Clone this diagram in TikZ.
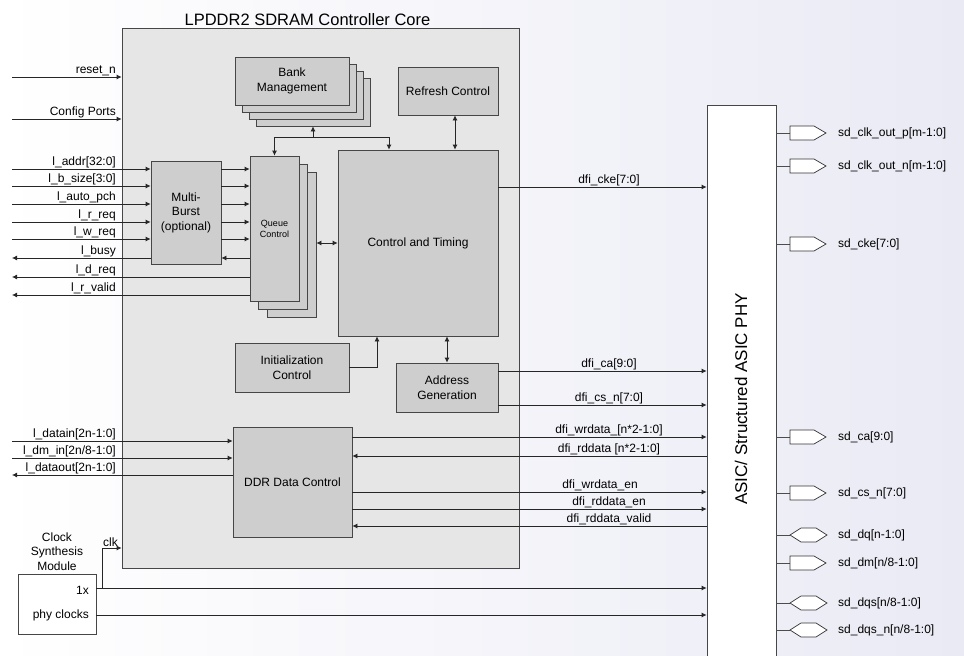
\documentclass[tikz,border=0pt]{standalone}
\usepackage{fontspec}
\setmainfont{Liberation Sans}
\usetikzlibrary{arrows.meta}
\definecolor{corefill}{RGB}{230,230,230}
\definecolor{blockfill}{RGB}{206,206,206}
\definecolor{edge}{RGB}{70,70,70}
\definecolor{bgright}{RGB}{234,234,245}
\newcommand{\sigfont}{\fontsize{12}{14.5}\selectfont}

\begin{document}
\begin{tikzpicture}[x=1pt, y=-1pt,
    block/.style={draw=edge, fill=blockfill, line width=0.8pt, inner sep=0pt, align=center, font=\sigfont},
    sig/.style={draw=black!85, line width=0.8pt, -{Latex[length=5pt,width=5pt]}},
    dsig/.style={draw=black!85, line width=0.8pt, {Latex[length=5pt,width=5pt]}-{Latex[length=5pt,width=5pt]}},
    wire/.style={draw=black!70, line width=0.8pt},
    lbl/.style={font=\sigfont, inner sep=1pt},
    outpin/.style={draw=black!80, fill=white, line width=0.7pt}]
  \useasboundingbox (0,0) rectangle (964,656);
  \fill[left color=white, right color=bgright] (0,0) rectangle (964,656);

  \node[draw=edge, fill=corefill, line width=0.8pt, minimum width=397pt, minimum height=540pt] (core) at (320.5,298) {};
  \node[font=\fontsize{16.5}{18}\selectfont, anchor=south, inner sep=2pt] (title) at ([xshift=-13pt]core.north) {LPDDR2 SDRAM Controller Core};

  \foreach \d in {21,14,7}
    \node[block, minimum width=114pt, minimum height=48pt] (bank\d) at (292+\d,81+\d) {};
  \node[block, minimum width=114pt, minimum height=48pt] (bank) at (292,81) {Bank\\Management};
  \node[block, minimum width=100pt, minimum height=48pt] (refresh) at (448,91) {Refresh Control};
  \node[block, minimum width=160pt, minimum height=186pt] (ct) at (418,243) {Control and Timing};
  \foreach \d/\e in {17/16,8/8}
    \node[block, minimum width=49pt, minimum height=145pt] (queue\d) at (274.5+\d,228.5+\e) {};
  \node[block, minimum width=49pt, minimum height=145pt, font=\fontsize{9}{11}\selectfont] (queue) at (274.5,228.5) {Queue\\Control};
  \node[block, minimum width=70pt, minimum height=103pt] (mb) at (186,212.5) {Multi-\\Burst\\(optional)};
  \node[block, minimum width=114pt, minimum height=49pt] (init) at (292,367.5) {Initialization\\Control};
  \node[block, minimum width=102pt, minimum height=49pt] (addr) at (447,387.5) {Address\\Generation};
  \node[block, minimum width=119pt, minimum height=110pt] (ddr) at (292.5,482) {DDR Data Control};

  \node[draw=edge, fill=white, line width=0.8pt, minimum width=78pt, minimum height=60pt] (clk) at (57,604) {};
  \node[lbl, align=center, anchor=south, inner sep=3pt] (clkname) at (clk.north) {Clock\\Synthesis\\Module};
  \node[lbl, anchor=east] (onex) at (90,590) {1x};
  \node[lbl, anchor=east] (phyclk) at (90,615) {phy clocks};

  \node[draw=edge, fill=white, line width=0.8pt, minimum width=69pt, minimum height=565pt] (phy) at (741.5,387.5) {};
  \node[rotate=90, font=\fontsize{17}{20}\selectfont] (phyname) at (741,399) {ASIC/ Structured ASIC PHY};

  \draw[sig] (bank21.south |- 0,137) -- (bank21.south);
  \draw[sig] (bank21.south |- 0,137) -| (queue.north);
  \draw[sig] (bank21.south |- 0,137) -| ([xshift=-29pt]ct.north);
  \draw[dsig] (refresh.south -| 455,0) -- (ct.north -| 455,0);
  \draw[dsig] (ct.west -| queue17.east) -- (ct.west);
  \draw[dsig] (addr.north) -- (addr.north |- ct.south);
  \draw[sig] (init.east) -| ([xshift=-41pt]ct.south);

  \coordinate (lft) at (12,0);
  \foreach \y/\t in {77/reset\_n, 119/Config Ports} {
    \draw[sig] (lft |- 0,\y) -- (core.west |- 0,\y);
    \node[lbl, anchor=south east] (in\y) at (117,\y) {\t};
  }
  \foreach \y/\t in {169/{l\_addr[32:0]}, 186/{l\_b\_size[3:0]}, 204/l\_auto\_pch, 222/l\_r\_req, 239/l\_w\_req} {
    \draw[sig] (lft |- 0,\y) -- (mb.west |- 0,\y);
    \node[lbl, anchor=south east] (in\y) at (117,\y) {\t};
    \draw[sig] (mb.east |- 0,\y) -- (queue.west |- 0,\y);
  }
  \draw[sig] (mb.west |- 0,258) -- (lft |- 0,258);
  \node[lbl, anchor=south east] (in258) at (117,258) {l\_busy};
  \draw[sig] (queue.west |- 0,258) -- (mb.east |- 0,258);
  \foreach \y/\t in {277/l\_d\_req, 295/l\_r\_valid} {
    \draw[sig] (queue.west |- 0,\y) -- (lft |- 0,\y);
    \node[lbl, anchor=south east] (in\y) at (117,\y) {\t};
  }
  \foreach \y/\t in {441/{l\_datain[2n-1:0]}, 458/{l\_dm\_in[2n/8-1:0]}} {
    \draw[sig] (lft |- 0,\y) -- (ddr.west |- 0,\y);
    \node[lbl, anchor=south east] (in\y) at (117,\y) {\t};
  }
  \draw[sig] (ddr.west |- 0,475) -- (lft |- 0,475);
  \node[lbl, anchor=south east] (in475) at (117,475) {l\_dataout[2n-1:0]};

  \draw[sig] (ct.east |- 0,187) -- (phy.west |- 0,187);
  \node[lbl, anchor=south] (out187) at (609,187) {dfi\_cke[7:0]};
  \foreach \y/\t in {371/{dfi\_ca[9:0]}, 405/{dfi\_cs\_n[7:0]}} {
    \draw[sig] (addr.east |- 0,\y) -- (phy.west |- 0,\y);
    \node[lbl, anchor=south] (out\y) at (609,\y) {\t};
  }
  \foreach \y/\x/\t in {437/609/{dfi\_wrdata\_[n*2-1:0]}, 492/600/dfi\_wrdata\_en, 509/609/dfi\_rddata\_en} {
    \draw[sig] (ddr.east |- 0,\y) -- (phy.west |- 0,\y);
    \node[lbl, anchor=south] (out\y) at (\x,\y) {\t};
  }
  \foreach \y/\t in {456/{dfi\_rddata [n*2-1:0]}, 526/dfi\_rddata\_valid} {
    \draw[sig] (phy.west |- 0,\y) -- (ddr.east |- 0,\y);
    \node[lbl, anchor=south] (out\y) at (609,\y) {\t};
  }

  \coordinate (br) at (102,588);
  \draw[sig] (clk.east |- br) -- (phy.west |- br);
  \draw[sig] (br) |- (core.west |- 0,548);
  \node[lbl, anchor=south west] (clkin) at (102,548) {clk};
  \draw[sig] (clk.east |- 0,615) -- (phy.west |- 0,615);

  \foreach \y/\t in {133/{sd\_clk\_out\_p[m-1:0]}, 166/{sd\_clk\_out\_n[m-1:0]}, 244/{sd\_cke[7:0]}, 437/{sd\_ca[9:0]}, 493/{sd\_cs\_n[7:0]}, 563/{sd\_dm[n/8-1:0]}} {
    \coordinate (pin\y) at (790,\y);
    \draw[wire] (phy.east |- pin\y) -- (pin\y);
    \draw[outpin] (pin\y) -- ++(0,-7) -- ++(24,0) -- ++(12,7) -- ++(-12,7) -- ++(-24,0) -- cycle;
    \node[lbl, anchor=west] (pinlbl\y) at (837,\y) {\t};
  }
  \foreach \y/\t in {535/{sd\_dq[n-1:0]}, 603/{sd\_dqs[n/8-1:0]}, 630/{sd\_dqs\_n[n/8-1:0]}} {
    \coordinate (pin\y) at (790,\y);
    \draw[wire] (phy.east |- pin\y) -- (pin\y);
    \draw[outpin] (pin\y) -- ++(11,-7) -- ++(15,0) -- ++(11,7) -- ++(-11,7) -- ++(-15,0) -- cycle;
    \node[lbl, anchor=west] (pinlbl\y) at (837,\y) {\t};
  }
\end{tikzpicture}
\end{document}
